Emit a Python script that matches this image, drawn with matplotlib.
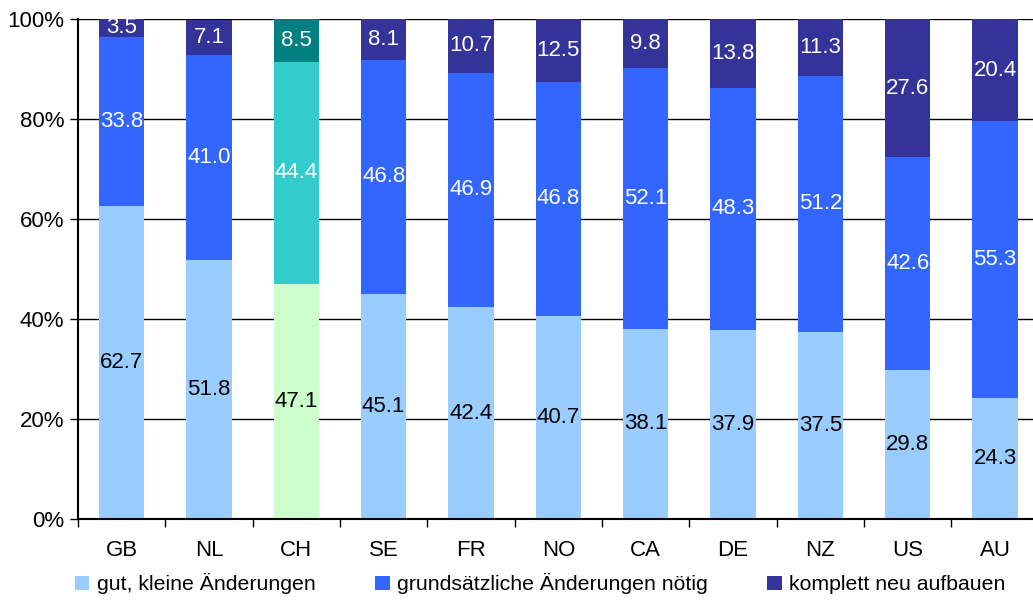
import numpy as np
import matplotlib.pyplot as plt
from matplotlib.patches import Patch

plt.rcParams['font.family'] = ['Liberation Sans', 'DejaVu Sans']

countries = ["GB", "NL", "CH", "SE", "FR", "NO", "CA", "DE", "NZ", "US", "AU"]
gut = [62.7, 51.8, 47.1, 45.1, 42.4, 40.7, 38.1, 37.9, 37.5, 29.8, 24.3]
grund = [33.8, 41.0, 44.4, 46.8, 46.9, 46.8, 52.1, 48.3, 51.2, 42.6, 55.3]
komplett = [3.5, 7.1, 8.5, 8.1, 10.7, 12.5, 9.8, 13.8, 11.3, 27.6, 20.4]
series_names = ["gut, kleine Änderungen", "grundsätzliche Änderungen nötig", "komplett neu aufbauen"]

colors = ["#99CCFF", "#3366FF", "#333399"]
colors_ch = ["#CCFFCC", "#33CCCC", "#008080"]
text_colors = ["black", "white", "white"]

fig = plt.figure(figsize=(10.33, 6.0), dpi=100)
ax = fig.add_axes([0.0755, 0.135, 0.93, 0.833])

x = np.arange(len(countries))
width = 0.52
data = [gut, grund, komplett]
bottom = np.zeros(len(countries))
for i, vals in enumerate(data):
    vals = np.array(vals)
    cols = [colors_ch[i] if c == "CH" else colors[i] for c in countries]
    ax.bar(x, vals, width, bottom=bottom, color=cols, zorder=3, linewidth=0)
    for xi, b, v in zip(x, bottom, vals):
        ax.text(xi, b + v / 2, f"{v:.1f}", ha="center", va="center",
                fontsize=16, color=text_colors[i], zorder=4)
    bottom += vals

ax.set_xlim(-0.5, len(countries) - 0.5)
ax.set_ylim(0, 100)
ax.set_yticks(np.arange(0, 101, 20))
ax.set_yticklabels([f"{v}%" for v in range(0, 101, 20)], fontsize=16)
ax.yaxis.grid(True, color="black", linewidth=1, zorder=0)
ax.tick_params(axis="y", length=6, width=1, direction="out", pad=4)

ax.set_xticks(x)
ax.set_xticklabels(countries, fontsize=16)
ax.set_xticks(np.arange(-0.5, len(countries)), minor=True)
ax.tick_params(axis="x", which="major", length=0, pad=15)
ax.tick_params(axis="x", which="minor", length=6, width=1, direction="out")

for s in ["top", "right"]:
    ax.spines[s].set_visible(False)
for s in ["left", "bottom"]:
    ax.spines[s].set_color("black")
    ax.spines[s].set_linewidth(1.5)
    ax.spines[s].set_zorder(5)

handles = [Patch(facecolor=c, edgecolor="none") for c in colors]
fig.legend(handles, series_names, loc="center", bbox_to_anchor=(0.523, 0.027),
           ncol=3, frameon=False, fontsize=15.3, handlelength=0.68, handleheight=0.68,
           handletextpad=0.35, columnspacing=2.8)

fig.savefig("out.png", dpi=100)
